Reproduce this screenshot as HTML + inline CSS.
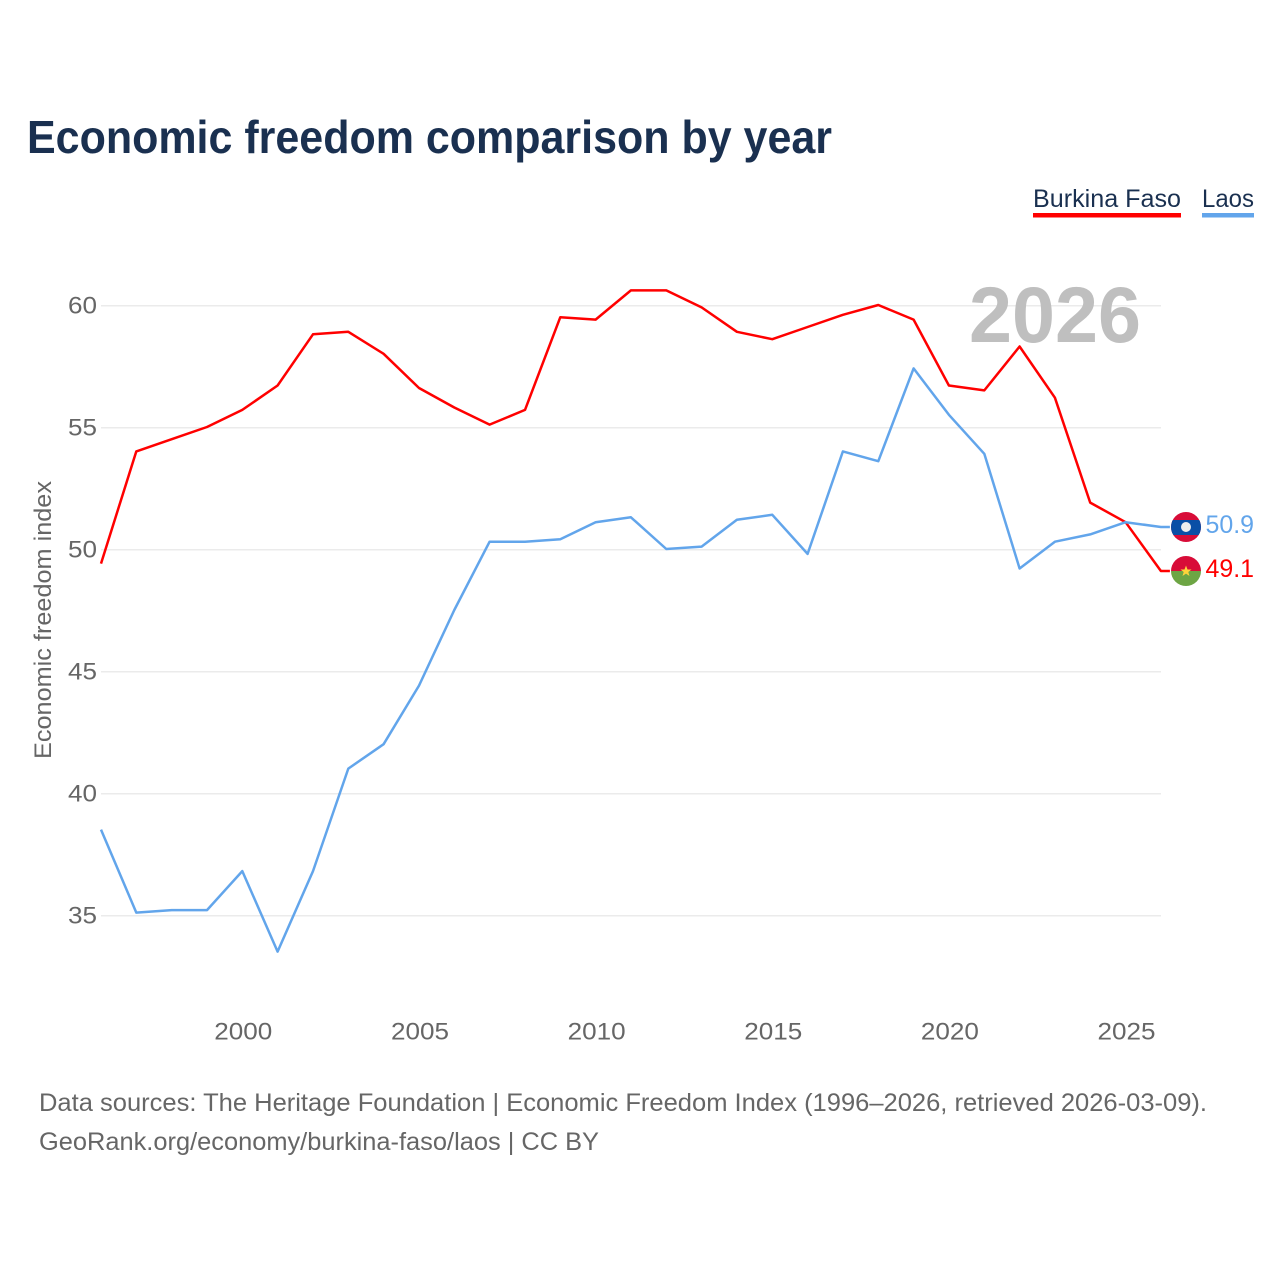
<!DOCTYPE html>
<html lang="en">
<head>
<meta charset="utf-8">
<title>Economic freedom comparison by year</title>
<style>
html,body{margin:0;padding:0;background:#fff;}
svg{display:block;font-family:"Liberation Sans",sans-serif;}
</style>
</head>
<body>
<svg id="chart" xmlns="http://www.w3.org/2000/svg" width="1280" height="1280" viewBox="0 0 1280 1280">
<rect x="0" y="0" width="1280" height="1280" fill="#ffffff"/>
<text x="27" y="153" font-size="46" font-weight="700" fill="#1a3050" textLength="805" lengthAdjust="spacingAndGlyphs">Economic freedom comparison by year</text>
<g id="grid"></g>
<text x="969" y="342" font-size="79" font-weight="700" fill="#bfbfbf" textLength="172" lengthAdjust="spacingAndGlyphs">2026</text>
<g id="ylabels"></g>
<g id="xlabels"></g>
<text transform="translate(51,759) rotate(-90)" font-size="24" fill="#666666" textLength="278" lengthAdjust="spacingAndGlyphs">Economic freedom index</text>
<g id="series"></g>

<g>
<text x="1033" y="207" font-size="25" fill="#1a3050" textLength="148" lengthAdjust="spacingAndGlyphs">Burkina Faso</text>
<rect x="1033" y="213" width="148" height="4.5" fill="#ff0000"/>
</g>
<g>
<text x="1202" y="207" font-size="25" fill="#1a3050" textLength="52" lengthAdjust="spacingAndGlyphs">Laos</text>
<rect x="1202" y="213" width="52" height="4.5" fill="#62a5eb"/>
</g>

<defs>
<clipPath id="clip-laos"><circle id="clip-laos-circle" cx="1186" cy="527" r="15"/></clipPath>
<clipPath id="clip-bf"><circle id="clip-bf-circle" cx="1186" cy="571" r="15"/></clipPath>
</defs>
<g id="flag-laos" clip-path="url(#clip-laos)">
<rect x="1171" y="512" width="30" height="30" fill="#d80c38"/>
<rect x="1171" y="520" width="30" height="15" fill="#0a4fa6"/>
<circle cx="1186" cy="527" r="5" fill="#eeeeee"/>
</g>
<g id="flag-bf" clip-path="url(#clip-bf)">
<rect x="1171" y="556" width="30" height="15" fill="#d80c38"/>
<rect x="1171" y="571" width="30" height="15" fill="#6da544"/>
<polygon points="1186,565.5 1187.5,569.5 1191.5,569.5 1188.3,572 1189.5,576 1186,573.6 1182.5,576 1183.7,572 1180.5,569.5 1184.5,569.5" fill="#ffd43b"/>
</g>
<text x="1205.5" y="533" font-size="25" fill="#62a5eb" textLength="48.5" lengthAdjust="spacingAndGlyphs">50.9</text>
<text x="1205.5" y="577" font-size="25" fill="#ff0000" textLength="48.5" lengthAdjust="spacingAndGlyphs">49.1</text>

<text x="39" y="1111" font-size="25" fill="#666666" textLength="1168" lengthAdjust="spacingAndGlyphs">Data sources: The Heritage Foundation | Economic Freedom Index (1996–2026, retrieved 2026-03-09).</text>
<text x="39" y="1150" font-size="25" fill="#666666" textLength="560" lengthAdjust="spacingAndGlyphs">GeoRank.org/economy/burkina-faso/laos | CC BY</text>
</svg>
<script>
const years = [1996,1997,1998,1999,2000,2001,2002,2003,2004,2005,2006,2007,2008,2009,2010,2011,2012,2013,2014,2015,2016,2017,2018,2019,2020,2021,2022,2023,2024,2025,2026];
const burkinaFaso = [49.4,54.0,54.5,55.0,55.7,56.7,58.8,58.9,58.0,56.6,55.8,55.1,55.7,59.5,59.4,60.6,60.6,59.9,58.9,58.6,59.1,59.6,60.0,59.4,56.7,56.5,58.3,56.2,51.9,51.1,49.1];
const laos = [38.5,35.1,35.2,35.2,36.8,33.5,36.8,41.0,42.0,44.4,47.5,50.3,50.3,50.4,51.1,51.3,50.0,50.1,51.2,51.4,49.8,54.0,53.6,57.4,55.5,53.9,49.2,50.3,50.6,51.1,50.9];
const yTicks = [35,40,45,50,55,60];
const xTicks = [2000,2005,2010,2015,2020,2025];

const NS = 'http://www.w3.org/2000/svg';
function xScale(year){ return 101 + (year - 1996) * 35.33; }
function yScale(v){ return 549.7 - (v - 50) * 24.4; }
function make(tag, attrs, parent){
  const el = document.createElementNS(NS, tag);
  for (const k in attrs) el.setAttribute(k, attrs[k]);
  parent.appendChild(el);
  return el;
}
const grid = document.getElementById('grid');
const ylabels = document.getElementById('ylabels');
const xlabels = document.getElementById('xlabels');
const series = document.getElementById('series');

yTicks.forEach(function(t){
  const line = make('line', {x1:101, x2:1161, y1:yScale(t), y2:yScale(t), stroke:'#ebebeb', 'stroke-width':1.5}, grid);
  
  
  const label = make('text', {x:97, y:yScale(t) + 8, 'text-anchor':'end', 'font-size':24, fill:'#666666', textLength:29, lengthAdjust:'spacingAndGlyphs'}, ylabels);
  
  
  label.textContent = t;
});
xTicks.forEach(function(t){
  const label = make('text', {x:xScale(t) + 1, y:1039.5, 'text-anchor':'middle', 'font-size':24, fill:'#666666', textLength:58, lengthAdjust:'spacingAndGlyphs'}, xlabels);
  
  
  label.textContent = t;
});
function pathFor(values){
  return values.map(function(v, i){
    return (i ? 'L' : 'M') + xScale(years[i]).toFixed(1) + ' ' + (yScale(v) - 0.7).toFixed(1);
  }).join(' ');
}
function drawSeries(values, color, name){
  const last = values[values.length - 1];
  const d = pathFor(values) + ' L' + (xScale(years[years.length - 1]) + 9) + ' ' + (yScale(last) - 0.7).toFixed(1);
  const p = make('path', {d:d, fill:'none', stroke:color, 'stroke-width':2.5, 'stroke-linejoin':'round'}, series);
  
  
}
drawSeries(burkinaFaso, '#ff0000', 'line-burkina-faso');
drawSeries(laos, '#62a5eb', 'line-laos');
</script>
</body>
</html>
